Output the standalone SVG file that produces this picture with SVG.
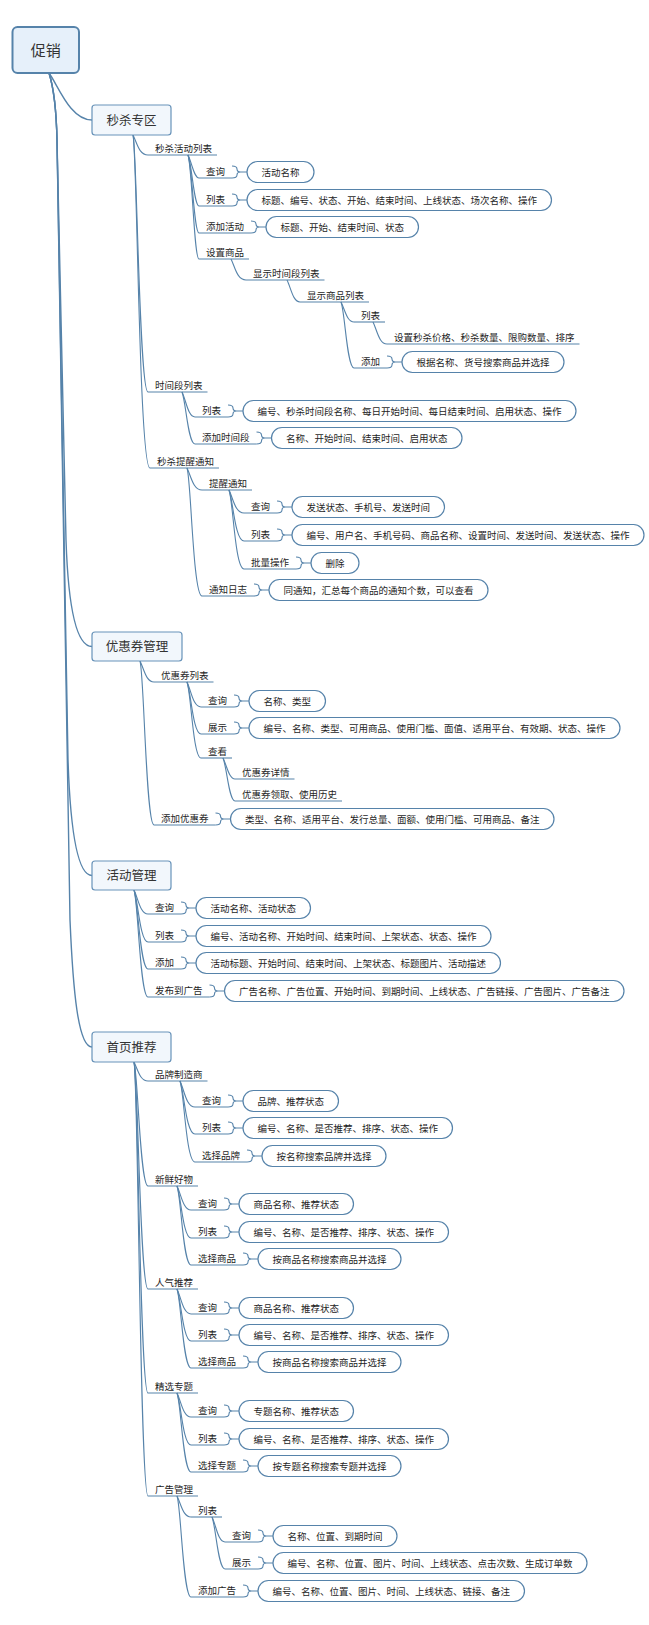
<svg xmlns="http://www.w3.org/2000/svg" xmlns:xlink="http://www.w3.org/1999/xlink" width="649" height="1625" viewBox="0 0 649 1625">
<style>
  .c { fill: none; stroke: #5683aa; stroke-width: 1.1; }
  .trunk { fill: none; stroke: #5683aa; stroke-width: 1.4; }
  .ul { fill: none; stroke: #5683aa; stroke-width: 1.1; }
  .box { fill: #ffffff; stroke: #5683aa; stroke-width: 1.2; }
  .main { fill: #f2f7fc; stroke: #6893b9; stroke-width: 1.2; }
  .root { fill: #e6f0fa; stroke: #5683aa; stroke-width: 2; }
  .t, .bt { font-family: "Noto Sans CJK SC", "Noto Sans", sans-serif; font-size: 9.5px; fill: #1e1e1e; }
  .mt { font-family: "Noto Sans CJK SC", "Noto Sans", sans-serif; font-size: 12.5px; fill: #333333; text-anchor: middle; }
  .rt { font-family: "Noto Sans CJK SC", "Noto Sans", sans-serif; font-size: 15px; fill: #333333; text-anchor: middle; }
</style>
<defs>
  <!-- curly bracket joining a label to its detail pill; origin = right end of the underline -->
  <path id="brace" class="ul" d="M0 0 Q5 0 5 -3 Q5 -6 8.5 -6 Q5 -6 5 -9 Q5 -12 0 -12 M8.5 -6 H15"/>
</defs>
<rect width="649" height="1625" fill="#ffffff"/>

<g id="connectors">
  <!-- root to main branches -->
  <path class="trunk" d="M49 73 C58 85 70 120 92 120"/>
  <path class="trunk" d="M49 73 Q56 95 57 140 L66 540 C68 600 75 646.5 92 646.5"/>
  <path class="trunk" d="M49 73 Q56 95 57 140 L68 760 C70 820 76 875.5 92 875.5"/>
  <path class="trunk" d="M49 73 Q56 95 57 140 L70 920 C73 990 78 1047 92 1047"/>
  <!-- 秒杀专区 -->
  <path class="c" d="M133 135 C137 143 139 155 148 155"/>
  <path class="c" d="M133 135 C137 147 139 392 148 392"/>
  <path class="c" d="M133 135 C137 147 139 468 150 468"/>
  <path class="c" d="M188 155 C192 163 194 178 199 178"/>
  <path class="c" d="M188 155 C192 165 194 206 199 206"/>
  <path class="c" d="M188 155 C192 165 194 233 199 233"/>
  <path class="c" d="M188 155 C192 165 194 259 199 259"/>
  <path class="c" d="M231 259 C235 267 237 280 246 280"/>
  <path class="c" d="M287 280 C291 288 293 302 300 302"/>
  <path class="c" d="M341 302 C345 310 347 322 354 322"/>
  <path class="c" d="M341 302 C345 312 347 368 354 368"/>
  <path class="c" d="M373 322 C377 330 379 344 387 344"/>
  <path class="c" d="M182 392 C186 400 188 417 195 417"/>
  <path class="c" d="M182 392 C186 402 188 444 195 444"/>
  <path class="c" d="M187 468 C191 476 193 490 202 490"/>
  <path class="c" d="M187 468 C191 478 193 596 202 596"/>
  <path class="c" d="M229 490 C233 498 235 513 244 513"/>
  <path class="c" d="M229 490 C233 500 235 541 244 541"/>
  <path class="c" d="M229 490 C233 500 235 569 244 569"/>
  <!-- 优惠券管理 -->
  <path class="c" d="M140 661 C144 669 146 682 154 682"/>
  <path class="c" d="M140 661 C144 673 146 825 154 825"/>
  <path class="c" d="M187 682 C191 690 193 707 201 707"/>
  <path class="c" d="M187 682 C191 692 193 734 201 734"/>
  <path class="c" d="M187 682 C191 692 193 758 201 758"/>
  <path class="c" d="M223 758 C227 766 229 779 235 779"/>
  <path class="c" d="M223 758 C227 768 229 801 235 801"/>
  <!-- 活动管理 -->
  <path class="c" d="M134 890 C138 898 140 914 148 914"/>
  <path class="c" d="M134 890 C138 900 140 942 148 942"/>
  <path class="c" d="M134 890 C138 900 140 969 148 969"/>
  <path class="c" d="M134 890 C138 900 140 997 148 997"/>
  <!-- 首页推荐 -->
  <path class="c" d="M134 1062 C138 1070 140 1081 148 1081"/>
  <path class="c" d="M134 1062 C138 1074 140 1186 148 1186"/>
  <path class="c" d="M134 1062 C138 1074 140 1289 148 1289"/>
  <path class="c" d="M134 1062 C138 1074 140 1393 148 1393"/>
  <path class="c" d="M134 1062 C138 1074 140 1496 148 1496"/>
  <path class="c" d="M180 1081 C184 1089 186 1107 195 1107"/>
  <path class="c" d="M180 1081 C184 1091 186 1134 195 1134"/>
  <path class="c" d="M180 1081 C184 1091 186 1162 195 1162"/>
  <path class="c" d="M177 1186 C181 1194 183 1210 191 1210"/>
  <path class="c" d="M177 1186 C181 1196 183 1238 191 1238"/>
  <path class="c" d="M177 1186 C181 1196 183 1265 191 1265"/>
  <path class="c" d="M177 1289 C181 1297 183 1314 191 1314"/>
  <path class="c" d="M177 1289 C181 1299 183 1341 191 1341"/>
  <path class="c" d="M177 1289 C181 1299 183 1368 191 1368"/>
  <path class="c" d="M177 1393 C181 1401 183 1417 191 1417"/>
  <path class="c" d="M177 1393 C181 1403 183 1445 191 1445"/>
  <path class="c" d="M177 1393 C181 1403 183 1472 191 1472"/>
  <path class="c" d="M177 1496 C181 1504 183 1517 191 1517"/>
  <path class="c" d="M177 1496 C181 1506 183 1597 191 1597"/>
  <path class="c" d="M212 1517 C216 1525 218 1542 225 1542"/>
  <path class="c" d="M212 1517 C216 1527 218 1569 225 1569"/>
</g>

<!-- root -->
<g id="root">
  <rect class="root" x="12.5" y="27" width="66.5" height="46" rx="5"/>
  <text class="rt" x="45.7" y="55.5">促销</text>
</g>

<!-- ===== 秒杀专区 ===== -->
<g id="seckill">
  <rect class="main" x="92" y="105" width="79" height="30" rx="3"/>
  <text class="mt" x="131.5" y="124.5">秒杀专区</text>
</g>
<g id="seckill-list">
  <text class="t" x="155" y="152">秒杀活动列表</text>
  <path class="ul" d="M148 155 H217"/>
</g>
<g id="seckill-list-query">
  <text class="t" x="206" y="175">查询</text>
  <path class="ul" d="M199 178 H232"/>
  <use xlink:href="#brace" x="232" y="178"/>
  <rect class="box" x="247" y="161.5" width="67" height="21" rx="10.5"/>
  <text class="bt" x="261.5" y="175.5">活动名称</text>
</g>
<g id="seckill-list-table">
  <text class="t" x="206" y="203">列表</text>
  <path class="ul" d="M199 206 H232"/>
  <use xlink:href="#brace" x="232" y="206"/>
  <rect class="box" x="247" y="189.5" width="304.5" height="21" rx="10.5"/>
  <text class="bt" x="261.5" y="203.5">标题、编号、状态、开始、结束时间、上线状态、场次名称、操作</text>
</g>
<g id="seckill-list-add">
  <text class="t" x="206" y="230">添加活动</text>
  <path class="ul" d="M199 233 H251"/>
  <use xlink:href="#brace" x="251" y="233"/>
  <rect class="box" x="266" y="216.5" width="152.5" height="21" rx="10.5"/>
  <text class="bt" x="280.5" y="230.5">标题、开始、结束时间、状态</text>
</g>
<g id="seckill-goods">
  <text class="t" x="206" y="256">设置商品</text>
  <path class="ul" d="M199 259 H249"/>
</g>
<g id="seckill-goods-slots">
  <text class="t" x="253" y="277">显示时间段列表</text>
  <path class="ul" d="M246 280 H324.5"/>
</g>
<g id="seckill-goods-products">
  <text class="t" x="307" y="299">显示商品列表</text>
  <path class="ul" d="M300 302 H369"/>
</g>
<g id="seckill-goods-plist">
  <text class="t" x="361" y="319">列表</text>
  <path class="ul" d="M354 322 H385"/>
</g>
<g id="seckill-goods-plist-fields">
  <text class="t" x="394" y="341">设置秒杀价格、秒杀数量、限购数量、排序</text>
  <path class="ul" d="M387 344 H579.5"/>
</g>
<g id="seckill-goods-padd">
  <text class="t" x="361" y="365">添加</text>
  <path class="ul" d="M354 368 H387"/>
  <use xlink:href="#brace" x="387" y="368"/>
  <rect class="box" x="402" y="351.5" width="162" height="21" rx="10.5"/>
  <text class="bt" x="416.5" y="365.5">根据名称、货号搜索商品并选择</text>
</g>
<g id="seckill-slots">
  <text class="t" x="155" y="389">时间段列表</text>
  <path class="ul" d="M148 392 H207.5"/>
</g>
<g id="seckill-slots-table">
  <text class="t" x="202" y="414">列表</text>
  <path class="ul" d="M195 417 H228"/>
  <use xlink:href="#brace" x="228" y="417"/>
  <rect class="box" x="243" y="400.5" width="333" height="21" rx="10.5"/>
  <text class="bt" x="257.5" y="414.5">编号、秒杀时间段名称、每日开始时间、每日结束时间、启用状态、操作</text>
</g>
<g id="seckill-slots-add">
  <text class="t" x="202" y="441">添加时间段</text>
  <path class="ul" d="M195 444 H256.5"/>
  <use xlink:href="#brace" x="256.5" y="444"/>
  <rect class="box" x="271.5" y="427.5" width="190.5" height="21" rx="10.5"/>
  <text class="bt" x="286" y="441.5">名称、开始时间、结束时间、启用状态</text>
</g>
<g id="seckill-notice">
  <text class="t" x="157" y="465">秒杀提醒通知</text>
  <path class="ul" d="M150 468 H219"/>
</g>
<g id="seckill-notice-remind">
  <text class="t" x="209" y="487">提醒通知</text>
  <path class="ul" d="M202 490 H252"/>
</g>
<g id="seckill-notice-query">
  <text class="t" x="251" y="510">查询</text>
  <path class="ul" d="M244 513 H277"/>
  <use xlink:href="#brace" x="277" y="513"/>
  <rect class="box" x="292" y="496.5" width="152.5" height="21" rx="10.5"/>
  <text class="bt" x="306.5" y="510.5">发送状态、手机号、发送时间</text>
</g>
<g id="seckill-notice-table">
  <text class="t" x="251" y="538">列表</text>
  <path class="ul" d="M244 541 H277"/>
  <use xlink:href="#brace" x="277" y="541"/>
  <rect class="box" x="292" y="524.5" width="352" height="21" rx="10.5"/>
  <text class="bt" x="306.5" y="538.5">编号、用户名、手机号码、商品名称、设置时间、发送时间、发送状态、操作</text>
</g>
<g id="seckill-notice-batch">
  <text class="t" x="251" y="566">批量操作</text>
  <path class="ul" d="M244 569 H296"/>
  <use xlink:href="#brace" x="296" y="569"/>
  <rect class="box" x="311" y="552.5" width="48" height="21" rx="10.5"/>
  <text class="bt" x="325.5" y="566.5">删除</text>
</g>
<g id="seckill-notice-log">
  <text class="t" x="209" y="593">通知日志</text>
  <path class="ul" d="M202 596 H254"/>
  <use xlink:href="#brace" x="254" y="596"/>
  <rect class="box" x="269" y="579.5" width="219" height="21" rx="10.5"/>
  <text class="bt" x="283.5" y="593.5">同通知，汇总每个商品的通知个数，可以查看</text>
</g>

<!-- ===== 优惠券管理 ===== -->
<g id="coupon">
  <rect class="main" x="92" y="632" width="90" height="29" rx="3"/>
  <text class="mt" x="137" y="651">优惠券管理</text>
</g>
<g id="coupon-list">
  <text class="t" x="161" y="679">优惠券列表</text>
  <path class="ul" d="M154 682 H213.5"/>
</g>
<g id="coupon-list-query">
  <text class="t" x="208" y="704">查询</text>
  <path class="ul" d="M201 707 H234"/>
  <use xlink:href="#brace" x="234" y="707"/>
  <rect class="box" x="249" y="690.5" width="76.5" height="21" rx="10.5"/>
  <text class="bt" x="263.5" y="704.5">名称、类型</text>
</g>
<g id="coupon-list-show">
  <text class="t" x="208" y="731">展示</text>
  <path class="ul" d="M201 734 H234"/>
  <use xlink:href="#brace" x="234" y="734"/>
  <rect class="box" x="249" y="717.5" width="371" height="21" rx="10.5"/>
  <text class="bt" x="263.5" y="731.5">编号、名称、类型、可用商品、使用门槛、面值、适用平台、有效期、状态、操作</text>
</g>
<g id="coupon-list-view">
  <text class="t" x="208" y="755">查看</text>
  <path class="ul" d="M201 758 H232"/>
</g>
<g id="coupon-view-detail">
  <text class="t" x="242" y="776">优惠券详情</text>
  <path class="ul" d="M235 779 H294.5"/>
</g>
<g id="coupon-view-history">
  <text class="t" x="242" y="798">优惠券领取、使用历史</text>
  <path class="ul" d="M235 801 H342"/>
</g>
<g id="coupon-add">
  <text class="t" x="161" y="822">添加优惠券</text>
  <path class="ul" d="M154 825 H215.5"/>
  <use xlink:href="#brace" x="215.5" y="825"/>
  <rect class="box" x="230.5" y="808.5" width="323.5" height="21" rx="10.5"/>
  <text class="bt" x="245" y="822.5">类型、名称、适用平台、发行总量、面额、使用门槛、可用商品、备注</text>
</g>

<!-- ===== 活动管理 ===== -->
<g id="activity">
  <rect class="main" x="92" y="861" width="79" height="29" rx="3"/>
  <text class="mt" x="131.5" y="880">活动管理</text>
</g>
<g id="activity-query">
  <text class="t" x="155" y="911">查询</text>
  <path class="ul" d="M148 914 H181"/>
  <use xlink:href="#brace" x="181" y="914"/>
  <rect class="box" x="196" y="897.5" width="114.5" height="21" rx="10.5"/>
  <text class="bt" x="210.5" y="911.5">活动名称、活动状态</text>
</g>
<g id="activity-table">
  <text class="t" x="155" y="939">列表</text>
  <path class="ul" d="M148 942 H181"/>
  <use xlink:href="#brace" x="181" y="942"/>
  <rect class="box" x="196" y="925.5" width="295" height="21" rx="10.5"/>
  <text class="bt" x="210.5" y="939.5">编号、活动名称、开始时间、结束时间、上架状态、状态、操作</text>
</g>
<g id="activity-add">
  <text class="t" x="155" y="966">添加</text>
  <path class="ul" d="M148 969 H181"/>
  <use xlink:href="#brace" x="181" y="969"/>
  <rect class="box" x="196" y="952.5" width="304.5" height="21" rx="10.5"/>
  <text class="bt" x="210.5" y="966.5">活动标题、开始时间、结束时间、上架状态、标题图片、活动描述</text>
</g>
<g id="activity-publish">
  <text class="t" x="155" y="994">发布到广告</text>
  <path class="ul" d="M148 997 H209.5"/>
  <use xlink:href="#brace" x="209.5" y="997"/>
  <rect class="box" x="224.5" y="980.5" width="399.5" height="21" rx="10.5"/>
  <text class="bt" x="239" y="994.5">广告名称、广告位置、开始时间、到期时间、上线状态、广告链接、广告图片、广告备注</text>
</g>

<!-- ===== 首页推荐 ===== -->
<g id="home">
  <rect class="main" x="92" y="1032" width="79" height="30" rx="3"/>
  <text class="mt" x="131.5" y="1051.5">首页推荐</text>
</g>
<g id="home-brand">
  <text class="t" x="155" y="1078">品牌制造商</text>
  <path class="ul" d="M148 1081 H207.5"/>
</g>
<g id="home-brand-query">
  <text class="t" x="202" y="1104">查询</text>
  <path class="ul" d="M195 1107 H228"/>
  <use xlink:href="#brace" x="228" y="1107"/>
  <rect class="box" x="243" y="1090.5" width="95.5" height="21" rx="10.5"/>
  <text class="bt" x="257.5" y="1104.5">品牌、推荐状态</text>
</g>
<g id="home-brand-table">
  <text class="t" x="202" y="1131">列表</text>
  <path class="ul" d="M195 1134 H228"/>
  <use xlink:href="#brace" x="228" y="1134"/>
  <rect class="box" x="243" y="1117.5" width="209.5" height="21" rx="10.5"/>
  <text class="bt" x="257.5" y="1131.5">编号、名称、是否推荐、排序、状态、操作</text>
</g>
<g id="home-brand-pick">
  <text class="t" x="202" y="1159">选择品牌</text>
  <path class="ul" d="M195 1162 H247"/>
  <use xlink:href="#brace" x="247" y="1162"/>
  <rect class="box" x="262" y="1145.5" width="124" height="21" rx="10.5"/>
  <text class="bt" x="276.5" y="1159.5">按名称搜索品牌并选择</text>
</g>
<g id="home-new">
  <text class="t" x="155" y="1183">新鲜好物</text>
  <path class="ul" d="M148 1186 H198"/>
</g>
<g id="home-new-query">
  <text class="t" x="198" y="1207">查询</text>
  <path class="ul" d="M191 1210 H224"/>
  <use xlink:href="#brace" x="224" y="1210"/>
  <rect class="box" x="239" y="1193.5" width="114.5" height="21" rx="10.5"/>
  <text class="bt" x="253.5" y="1207.5">商品名称、推荐状态</text>
</g>
<g id="home-new-table">
  <text class="t" x="198" y="1235">列表</text>
  <path class="ul" d="M191 1238 H224"/>
  <use xlink:href="#brace" x="224" y="1238"/>
  <rect class="box" x="239" y="1221.5" width="209.5" height="21" rx="10.5"/>
  <text class="bt" x="253.5" y="1235.5">编号、名称、是否推荐、排序、状态、操作</text>
</g>
<g id="home-new-pick">
  <text class="t" x="198" y="1262">选择商品</text>
  <path class="ul" d="M191 1265 H243"/>
  <use xlink:href="#brace" x="243" y="1265"/>
  <rect class="box" x="258" y="1248.5" width="143" height="21" rx="10.5"/>
  <text class="bt" x="272.5" y="1262.5">按商品名称搜索商品并选择</text>
</g>
<g id="home-hot">
  <text class="t" x="155" y="1286">人气推荐</text>
  <path class="ul" d="M148 1289 H198"/>
</g>
<g id="home-hot-query">
  <text class="t" x="198" y="1311">查询</text>
  <path class="ul" d="M191 1314 H224"/>
  <use xlink:href="#brace" x="224" y="1314"/>
  <rect class="box" x="239" y="1297.5" width="114.5" height="21" rx="10.5"/>
  <text class="bt" x="253.5" y="1311.5">商品名称、推荐状态</text>
</g>
<g id="home-hot-table">
  <text class="t" x="198" y="1338">列表</text>
  <path class="ul" d="M191 1341 H224"/>
  <use xlink:href="#brace" x="224" y="1341"/>
  <rect class="box" x="239" y="1324.5" width="209.5" height="21" rx="10.5"/>
  <text class="bt" x="253.5" y="1338.5">编号、名称、是否推荐、排序、状态、操作</text>
</g>
<g id="home-hot-pick">
  <text class="t" x="198" y="1365">选择商品</text>
  <path class="ul" d="M191 1368 H243"/>
  <use xlink:href="#brace" x="243" y="1368"/>
  <rect class="box" x="258" y="1351.5" width="143" height="21" rx="10.5"/>
  <text class="bt" x="272.5" y="1365.5">按商品名称搜索商品并选择</text>
</g>
<g id="home-topic">
  <text class="t" x="155" y="1390">精选专题</text>
  <path class="ul" d="M148 1393 H198"/>
</g>
<g id="home-topic-query">
  <text class="t" x="198" y="1414">查询</text>
  <path class="ul" d="M191 1417 H224"/>
  <use xlink:href="#brace" x="224" y="1417"/>
  <rect class="box" x="239" y="1400.5" width="114.5" height="21" rx="10.5"/>
  <text class="bt" x="253.5" y="1414.5">专题名称、推荐状态</text>
</g>
<g id="home-topic-table">
  <text class="t" x="198" y="1442">列表</text>
  <path class="ul" d="M191 1445 H224"/>
  <use xlink:href="#brace" x="224" y="1445"/>
  <rect class="box" x="239" y="1428.5" width="209.5" height="21" rx="10.5"/>
  <text class="bt" x="253.5" y="1442.5">编号、名称、是否推荐、排序、状态、操作</text>
</g>
<g id="home-topic-pick">
  <text class="t" x="198" y="1469">选择专题</text>
  <path class="ul" d="M191 1472 H243"/>
  <use xlink:href="#brace" x="243" y="1472"/>
  <rect class="box" x="258" y="1455.5" width="143" height="21" rx="10.5"/>
  <text class="bt" x="272.5" y="1469.5">按专题名称搜索专题并选择</text>
</g>
<g id="home-ads">
  <text class="t" x="155" y="1493">广告管理</text>
  <path class="ul" d="M148 1496 H198"/>
</g>
<g id="home-ads-list">
  <text class="t" x="198" y="1514">列表</text>
  <path class="ul" d="M191 1517 H222"/>
</g>
<g id="home-ads-query">
  <text class="t" x="232" y="1539">查询</text>
  <path class="ul" d="M225 1542 H258"/>
  <use xlink:href="#brace" x="258" y="1542"/>
  <rect class="box" x="273" y="1525.5" width="124" height="21" rx="10.5"/>
  <text class="bt" x="287.5" y="1539.5">名称、位置、到期时间</text>
</g>
<g id="home-ads-show">
  <text class="t" x="232" y="1566">展示</text>
  <path class="ul" d="M225 1569 H258"/>
  <use xlink:href="#brace" x="258" y="1569"/>
  <rect class="box" x="273" y="1552.5" width="314" height="21" rx="10.5"/>
  <text class="bt" x="287.5" y="1566.5">编号、名称、位置、图片、时间、上线状态、点击次数、生成订单数</text>
</g>
<g id="home-ads-add">
  <text class="t" x="198" y="1594">添加广告</text>
  <path class="ul" d="M191 1597 H243"/>
  <use xlink:href="#brace" x="243" y="1597"/>
  <rect class="box" x="258" y="1580.5" width="266.5" height="21" rx="10.5"/>
  <text class="bt" x="272.5" y="1594.5">编号、名称、位置、图片、时间、上线状态、链接、备注</text>
</g>
</svg>
